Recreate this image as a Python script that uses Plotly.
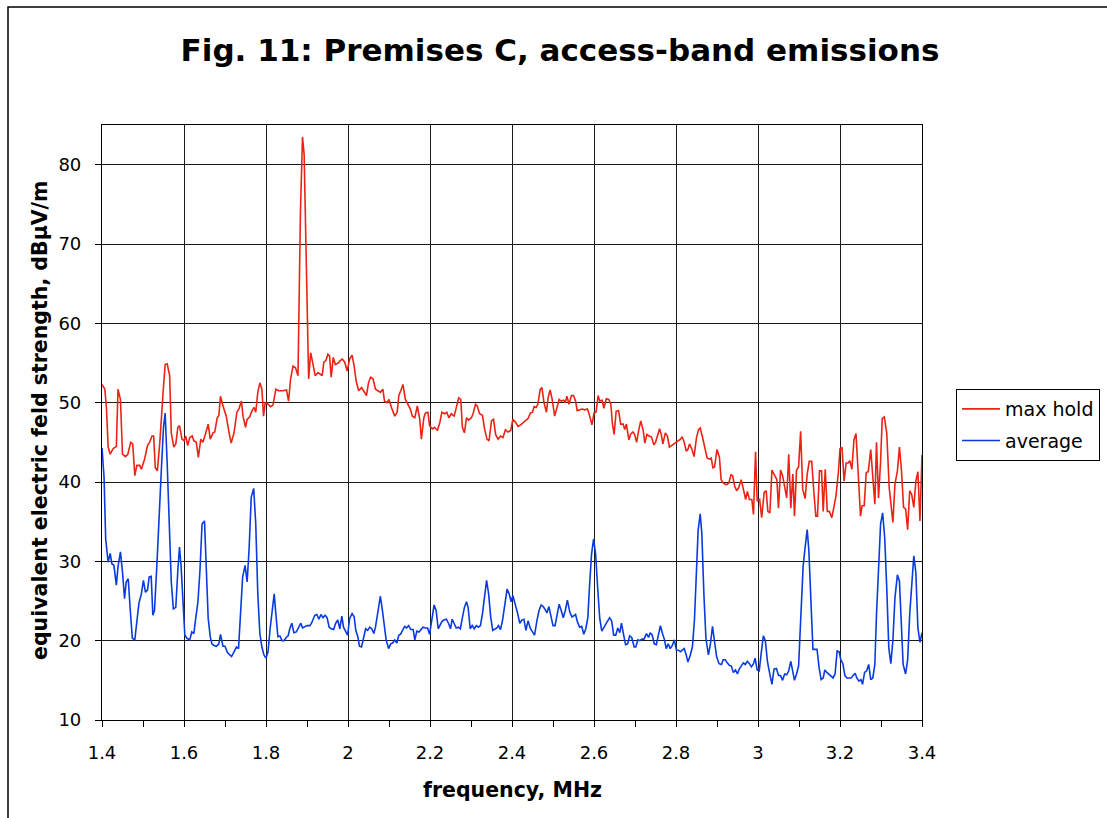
import plotly.graph_objects as go

# ---- measured spectrum: max hold ----
red_freq = [
    1.400, 1.407, 1.411, 1.415, 1.420, 1.427, 1.435, 1.439, 1.445, 1.450, 1.457, 1.463, 1.470, 1.475,
    1.480, 1.485, 1.492, 1.496, 1.504, 1.511, 1.516, 1.522, 1.526, 1.530, 1.535, 1.541, 1.549, 1.554,
    1.559, 1.565, 1.569, 1.575, 1.580, 1.585, 1.589, 1.595, 1.600, 1.604, 1.609, 1.614, 1.620, 1.624,
    1.630, 1.635, 1.641, 1.646, 1.652, 1.659, 1.664, 1.671, 1.675, 1.681, 1.685, 1.689, 1.695, 1.703,
    1.710, 1.715, 1.722, 1.729, 1.734, 1.740, 1.744, 1.750, 1.754, 1.760, 1.766, 1.771, 1.775, 1.780,
    1.785, 1.790, 1.794, 1.798, 1.805, 1.811, 1.817, 1.824, 1.831, 1.841, 1.850, 1.855, 1.860, 1.866,
    1.872, 1.878, 1.884, 1.889, 1.893, 1.898, 1.904,
    1.909, 1.915, 1.920, 1.927, 1.933, 1.937, 1.941, 1.946, 1.951, 1.955, 1.959, 1.964, 1.969, 1.976,
    1.981, 1.986, 1.992, 1.998, 2.004, 2.010, 2.015, 2.020, 2.026, 2.033, 2.038, 2.045, 2.050, 2.055,
    2.061, 2.067, 2.073, 2.079, 2.085, 2.089, 2.095, 2.100, 2.106, 2.114, 2.120, 2.124, 2.130, 2.134,
    2.140, 2.146, 2.152, 2.157, 2.163, 2.169, 2.175, 2.179, 2.185, 2.189, 2.195, 2.199, 2.206, 2.211,
    2.218, 2.224, 2.229, 2.236, 2.241, 2.246, 2.252, 2.259, 2.264, 2.270, 2.275, 2.279, 2.284, 2.289,
    2.294, 2.301, 2.305, 2.311, 2.315, 2.321, 2.328, 2.333, 2.339, 2.344, 2.350, 2.355, 2.360, 2.366,
    2.372, 2.378, 2.384, 2.390, 2.397,
    2.402, 2.409, 2.415, 2.421, 2.427, 2.433, 2.439, 2.445, 2.450, 2.454, 2.459, 2.463, 2.469, 2.473,
    2.478, 2.484, 2.488, 2.493, 2.498, 2.504, 2.510, 2.515, 2.520, 2.526, 2.530, 2.534, 2.539, 2.545,
    2.550, 2.555, 2.559, 2.565, 2.571, 2.577, 2.584, 2.589, 2.595, 2.600, 2.605, 2.610, 2.614, 2.620,
    2.624, 2.630, 2.636, 2.641, 2.645, 2.649, 2.654, 2.660, 2.665, 2.671, 2.675, 2.679, 2.685, 2.689,
    2.695, 2.699, 2.704, 2.709, 2.714, 2.720, 2.724, 2.729, 2.734, 2.740, 2.746, 2.750, 2.754, 2.760,
    2.764, 2.768, 2.774, 2.779, 2.784, 2.789, 2.794, 2.799, 2.805, 2.811, 2.815, 2.820, 2.825, 2.829,
    2.833, 2.839, 2.844, 2.850, 2.855, 2.859, 2.864, 2.870, 2.876, 2.881, 2.886, 2.890, 2.894, 2.900,
    2.906, 2.910, 2.915, 2.920, 2.925, 2.929, 2.934, 2.938, 2.943, 2.948, 2.953, 2.959, 2.964, 2.970,
    2.974, 2.979, 2.985, 2.989, 2.994, 2.998, 3.004, 3.009, 3.015, 3.020, 3.024, 3.029, 3.034, 3.040,
    3.046, 3.050, 3.055, 3.060, 3.065, 3.070, 3.075, 3.080, 3.085, 3.089, 3.094, 3.099, 3.104, 3.109,
    3.115, 3.120, 3.125, 3.131, 3.136, 3.141, 3.145, 3.150, 3.155, 3.159, 3.164, 3.169, 3.174, 3.180,
    3.185, 3.190, 3.196, 3.200, 3.205, 3.210, 3.215, 3.220, 3.224, 3.229, 3.234, 3.239, 3.245, 3.250,
    3.254, 3.259, 3.264, 3.269, 3.275, 3.280, 3.285, 3.289, 3.294, 3.299, 3.303, 3.308, 3.314, 3.320,
    3.324, 3.329, 3.334, 3.340, 3.345, 3.350, 3.355, 3.360, 3.365, 3.370, 3.375, 3.380, 3.385, 3.390,
    3.395, 3.400,
]
red_level = [
    52.3, 51.7, 49.2, 44.4, 43.5, 44.2, 44.5, 51.7, 50.4, 43.5, 43.2, 43.5, 45.0, 44.8,
    40.8, 42.1, 42.1, 41.6, 42.9, 44.6, 45.0, 45.8, 45.8, 41.8, 41.4, 45.0, 51.3, 54.8,
    54.9, 53.4, 46.2, 44.4, 44.8, 46.9, 47.1, 45.4, 45.2, 45.8, 44.6, 45.6, 45.8, 45.2,
    45.0, 43.1, 45.4, 45.0, 46.0, 47.3, 45.4, 46.2, 46.3, 48.1, 48.4, 50.8, 49.6, 48.3,
    46.2, 44.9, 46.2, 48.8, 49.2, 50.2, 48.3, 46.9, 47.9, 48.2, 49.0, 49.4, 48.8, 51.3,
    52.5, 51.7, 48.3, 50.0, 49.8, 49.5, 49.7, 51.7, 51.5, 51.5, 51.6, 50.2, 53.0, 54.6,
    54.4, 53.4, 73.9, 83.5, 81.3, 66.4, 53.0,
    56.3, 54.6, 53.4, 53.8, 53.6, 53.4, 55.1, 55.3, 56.1, 55.9, 53.2, 55.7, 54.8, 55.0,
    55.3, 55.5, 55.1, 54.0, 55.5, 56.0, 54.6, 52.7, 51.5, 51.9, 51.5, 50.9, 52.5, 53.2,
    53.0, 51.7, 51.5, 51.3, 51.7, 50.2, 50.0, 50.4, 49.4, 48.3, 48.8, 50.9, 51.7, 52.3,
    50.4, 49.8, 49.2, 48.3, 48.1, 49.6, 47.9, 45.4, 48.1, 48.7, 48.8, 47.1, 46.7, 46.9,
    46.5, 47.5, 48.8, 48.6, 48.8, 48.1, 48.6, 48.3, 49.4, 50.6, 50.4, 46.9, 46.2, 48.1,
    47.8, 48.1, 48.6, 49.8, 49.6, 48.6, 48.4, 46.7, 45.4, 45.2, 47.7, 47.9, 46.0, 45.4,
    45.8, 45.6, 46.6, 46.3, 46.5,
    47.9, 47.5, 47.0, 47.2, 47.5, 47.8, 48.0, 48.7, 48.8, 49.5, 49.4, 49.8, 51.7, 51.9,
    50.0, 48.8, 50.6, 51.6, 50.4, 48.3, 49.4, 50.4, 50.2, 50.3, 50.0, 50.8, 49.8, 50.9,
    50.9, 50.2, 49.0, 49.1, 49.2, 49.1, 49.2, 48.4, 47.2, 48.7, 48.8, 50.9, 50.2, 50.3,
    49.3, 50.5, 50.4, 49.8, 47.3, 46.0, 48.9, 49.0, 47.3, 47.3, 46.6, 47.3, 45.3, 46.0,
    46.3, 46.0, 45.0, 46.5, 47.7, 46.5, 44.9, 46.0, 45.8, 45.7, 44.7, 45.0, 45.6, 46.7,
    46.0, 44.8, 46.2, 45.8, 44.4, 44.6, 44.8, 45.0, 45.2, 45.4, 45.7, 45.0, 43.9, 44.1,
    44.8, 44.1, 43.2, 45.6, 46.6, 46.8, 45.8, 44.4, 43.0, 42.9, 43.0, 41.8, 41.9, 44.1,
    43.1, 40.3, 39.9, 39.7, 39.7, 39.9, 40.9, 40.8, 39.5, 38.9, 39.3, 40.3, 39.1, 37.8,
    38.8, 37.8, 37.8, 35.9, 43.8, 37.6, 37.8, 35.5, 38.7, 38.9, 36.3, 36.1, 41.5, 40.8,
    40.3, 36.7, 41.5, 40.8, 39.1, 38.0, 43.5, 36.7, 41.0, 35.7, 41.5, 41.9, 46.4, 39.1,
    37.9, 41.0, 42.6, 42.6, 38.9, 35.7, 35.7, 41.4, 41.4, 36.3, 41.6, 36.3, 36.3, 35.5,
    36.8, 38.2, 41.2, 44.2, 44.3, 40.1, 42.4, 42.4, 42.7, 41.6, 45.3, 46.1, 40.5, 35.7,
    37.0, 37.0, 41.2, 41.3, 44.1, 40.5, 37.2, 45.0, 38.0, 42.6, 48.0, 48.2, 46.2, 39.3,
    37.2, 34.9, 39.7, 41.4, 44.4, 41.4, 36.8, 36.6, 34.0, 38.9, 38.4, 36.8, 40.1, 41.3,
    35.1, 43.4,
]

# ---- measured spectrum: average ----
blue_freq = [
    1.400, 1.405, 1.409, 1.415, 1.420, 1.424, 1.429, 1.435, 1.439, 1.445, 1.450, 1.455, 1.459, 1.464,
    1.469, 1.474, 1.480, 1.485, 1.490, 1.496, 1.501, 1.506, 1.511, 1.515, 1.520, 1.524, 1.528, 1.534,
    1.539, 1.545, 1.550, 1.554, 1.559, 1.564, 1.569, 1.574, 1.580, 1.585, 1.589, 1.593, 1.598, 1.602,
    1.607, 1.614, 1.619, 1.624, 1.628, 1.634, 1.639, 1.644, 1.650, 1.654, 1.659, 1.664, 1.668, 1.673,
    1.679, 1.685, 1.689, 1.695, 1.700, 1.706, 1.711, 1.716, 1.722, 1.728, 1.733, 1.737, 1.743, 1.749,
    1.754, 1.759, 1.764, 1.770, 1.775, 1.780, 1.785, 1.790, 1.795, 1.800, 1.805, 1.810, 1.815, 1.820,
    1.824, 1.829, 1.834, 1.839, 1.844, 1.849, 1.854, 1.858, 1.863, 1.868, 1.874, 1.879, 1.885, 1.889,
    1.894, 1.900, 1.907,
    1.911, 1.919, 1.924, 1.929, 1.934, 1.939, 1.944, 1.949, 1.954, 1.959, 1.965, 1.970, 1.975, 1.980,
    1.985, 1.989, 1.994, 1.999, 2.004, 2.010, 2.015, 2.019, 2.024, 2.028, 2.033, 2.038, 2.043, 2.048,
    2.053, 2.058, 2.063, 2.067, 2.073, 2.079, 2.084, 2.089, 2.093, 2.099, 2.104, 2.109, 2.114, 2.119,
    2.124, 2.128, 2.133, 2.138, 2.143, 2.148, 2.153, 2.159, 2.163, 2.168, 2.173, 2.178, 2.183, 2.189,
    2.194, 2.199, 2.204, 2.210, 2.215, 2.220, 2.224, 2.229, 2.234, 2.240, 2.245, 2.250, 2.254, 2.259,
    2.264, 2.269, 2.274, 2.279, 2.284, 2.289, 2.293, 2.298, 2.303, 2.308, 2.313, 2.318, 2.323, 2.328,
    2.333, 2.338, 2.343, 2.348, 2.353, 2.358, 2.363, 2.367, 2.372, 2.377, 2.383, 2.388, 2.393, 2.398,
    2.402, 2.408, 2.413, 2.419, 2.424, 2.429, 2.434, 2.439, 2.445, 2.450, 2.455, 2.461, 2.466, 2.471,
    2.476, 2.480, 2.485, 2.490, 2.495, 2.500, 2.505, 2.510, 2.515, 2.520, 2.525, 2.530, 2.535, 2.541,
    2.546, 2.550, 2.555, 2.560, 2.565, 2.570, 2.575, 2.580, 2.585, 2.589, 2.594, 2.599, 2.604, 2.609,
    2.614, 2.619, 2.624, 2.628, 2.633, 2.638, 2.643, 2.648, 2.653, 2.658, 2.663, 2.667, 2.672, 2.677,
    2.682, 2.687, 2.692, 2.698, 2.702, 2.707, 2.712, 2.717, 2.722, 2.728, 2.733, 2.737, 2.742, 2.747,
    2.752, 2.757, 2.762, 2.767, 2.772, 2.776, 2.781, 2.786, 2.791, 2.796, 2.801, 2.806, 2.811, 2.815,
    2.820, 2.825, 2.829, 2.835, 2.840, 2.845, 2.850, 2.854, 2.859, 2.863, 2.868, 2.873, 2.879, 2.884,
    2.889, 2.894, 2.899, 2.905,
    2.911, 2.915, 2.920, 2.925, 2.930, 2.935, 2.940, 2.945, 2.950, 2.954, 2.959, 2.964, 2.969, 2.974,
    2.979, 2.984, 2.989, 2.993, 2.998, 3.003, 3.008, 3.013, 3.018, 3.023, 3.028, 3.034, 3.039, 3.045,
    3.050, 3.055, 3.060, 3.065, 3.070, 3.075, 3.080, 3.085, 3.089, 3.094, 3.099, 3.104, 3.110, 3.115,
    3.120, 3.124, 3.129, 3.134, 3.139, 3.144, 3.149, 3.154, 3.159, 3.163, 3.168, 3.173, 3.178, 3.183,
    3.188, 3.193, 3.198, 3.202, 3.207, 3.212, 3.217, 3.222, 3.227, 3.232, 3.237, 3.241, 3.246, 3.251,
    3.255, 3.260, 3.265, 3.270, 3.275, 3.280, 3.285, 3.289, 3.294, 3.299, 3.304, 3.309, 3.314, 3.319,
    3.324, 3.329, 3.334, 3.340, 3.345, 3.350, 3.354, 3.360, 3.365, 3.370, 3.375, 3.380, 3.385, 3.390,
    3.395, 3.400,
]
blue_level = [
    44.3, 40.6, 32.8, 29.9, 31.0, 29.7, 29.5, 27.0, 29.3, 31.2, 28.6, 25.3, 27.4, 27.8,
    23.8, 20.3, 20.1, 22.8, 24.7, 25.9, 27.6, 26.1, 26.4, 28.0, 28.1, 23.2, 23.8, 29.7,
    36.0, 41.8, 46.9, 48.7, 42.3, 34.7, 27.4, 24.0, 24.2, 28.9, 31.8, 29.3, 23.4, 20.7,
    20.3, 20.1, 21.1, 20.9, 22.6, 24.9, 28.9, 34.7, 35.1, 29.5, 22.8, 20.5, 19.6, 19.4,
    19.3, 19.6, 20.8, 19.3, 19.3, 18.5, 18.2, 18.0, 18.6, 19.2, 19.0, 23.4, 28.0, 29.5,
    27.4, 31.8, 38.1, 39.2, 34.7, 25.9, 20.9, 19.2, 18.2, 17.8, 18.6, 21.5, 23.8, 25.9,
    23.4, 20.5, 20.6, 20.0, 20.0, 20.4, 20.6, 21.5, 22.2, 21.0, 21.1, 21.7, 22.2, 21.6,
    21.7, 21.9, 21.9,
    22.2, 23.2, 23.3, 22.7, 23.3, 22.9, 23.2, 22.9, 21.7, 21.5, 21.4, 22.2, 22.6, 21.5,
    23.1, 21.7, 21.2, 20.7, 22.8, 23.4, 23.0, 21.3, 20.5, 19.3, 19.2, 20.6, 21.5, 21.3,
    21.7, 21.5, 20.9, 21.7, 23.4, 25.6, 23.8, 21.5, 20.1, 19.0, 19.6, 19.7, 20.1, 19.7,
    20.7, 20.8, 21.3, 21.8, 21.6, 21.9, 21.4, 21.4, 20.1, 21.2, 21.1, 21.4, 21.7, 21.6,
    21.6, 20.8, 22.6, 24.5, 23.8, 21.5, 21.9, 22.4, 22.6, 22.7, 22.2, 21.5, 22.7, 22.2,
    21.6, 21.7, 21.5, 22.9, 24.2, 24.9, 24.2, 21.5, 21.9, 21.5, 21.9, 21.7, 21.9, 23.4,
    25.9, 27.6, 25.9, 23.0, 21.3, 21.5, 21.6, 21.9, 21.4, 22.6, 24.9, 26.5, 25.9, 24.9,
    25.7, 24.6, 23.6, 22.2, 22.6, 22.7, 21.3, 22.5, 21.5, 21.1, 20.7, 22.6, 23.8, 24.5,
    24.3, 24.0, 23.5, 24.3, 23.2, 21.9, 21.9, 23.4, 24.6, 23.8, 22.9, 23.8, 25.1, 23.6,
    23.0, 23.1, 23.3, 22.3, 21.7, 21.8, 20.8, 21.5, 22.9, 26.8, 30.9, 32.8, 30.9, 26.6,
    22.8, 21.2, 21.7, 21.9, 22.6, 22.9, 22.5, 20.7, 20.7, 21.6, 21.0, 22.2, 20.8, 19.5,
    19.6, 20.6, 20.4, 19.2, 19.2, 20.1, 20.0, 20.2, 20.2, 20.9, 20.4, 21.0, 20.7, 19.6,
    19.5, 20.6, 21.9, 20.9, 20.1, 19.0, 19.6, 19.0, 19.4, 20.1, 18.8, 18.8, 18.6, 18.8,
    19.0, 18.2, 17.3, 18.2, 19.2, 22.6, 28.4, 33.9, 36.0, 33.5, 25.9, 20.3, 18.2, 19.6,
    21.8, 20.1, 18.0, 17.1,
    17.0, 17.6, 17.6, 17.2, 16.9, 16.8, 16.0, 16.3, 15.8, 16.4, 16.8, 17.2, 17.0, 17.4,
    17.1, 16.7, 17.1, 17.8, 16.3, 16.2, 18.5, 20.6, 20.0, 17.4, 16.0, 14.5, 16.4, 16.5,
    15.6, 15.6, 15.0, 15.8, 15.7, 16.2, 17.4, 15.8, 15.0, 15.8, 16.8, 22.5, 29.3, 31.8,
    34.0, 31.4, 25.5, 18.9, 18.9, 18.9, 16.6, 15.1, 15.3, 16.3, 16.0, 15.8, 15.6, 15.3,
    15.8, 18.7, 18.6, 17.6, 17.1, 15.6, 15.3, 15.3, 15.3, 15.6, 15.9, 15.3, 14.9, 15.1,
    14.5, 16.0, 16.2, 17.0, 15.1, 15.3, 17.0, 23.3, 30.0, 34.7, 36.1, 33.0, 26.7, 19.1,
    17.1, 20.0, 25.4, 28.3, 27.5, 20.8, 17.0, 15.8, 17.6, 23.3, 27.7, 30.7, 28.6, 21.6,
    19.8, 21.0,
]

x_tick_vals = [1.4, 1.6, 1.8, 2.0, 2.2, 2.4, 2.6, 2.8, 3.0, 3.2, 3.4]
x_tick_text = ["1.4", "1.6", "1.8", "2", "2.2", "2.4", "2.6", "2.8", "3", "3.2", "3.4"]
y_tick_vals = [10, 20, 30, 40, 50, 60, 70, 80]

FONT = "DejaVu Sans, Verdana, sans-serif"

fig = go.Figure()
fig.add_trace(go.Scatter(
    x=red_freq, y=red_level, mode="lines", name="max hold", legendgroup="a",
    line=dict(color="#ec2314", width=1.6),
))
fig.add_trace(go.Scatter(
    x=blue_freq, y=blue_level, mode="lines", name="average", legendgroup="b",
    line=dict(color="#0a3be0", width=1.6),
))

axis_common = dict(
    showline=True, linecolor="#000000", linewidth=1.2, mirror=True,
    showgrid=True, gridcolor="#1a1a1a", gridwidth=1,
    zeroline=False, ticks="outside", ticklen=6, tickcolor="#000000",
    tickfont=dict(family=FONT, size=18, color="#000000"),
)

fig.update_xaxes(
    range=[1.4, 3.4], tickvals=x_tick_vals, ticktext=x_tick_text,
    minor=dict(dtick=0.1, tick0=1.4, ticks="outside", ticklen=6, tickcolor="#000000", showgrid=False),
    ticklabelstandoff=10,
    **axis_common,
)
fig.update_yaxes(range=[10, 85], tickvals=y_tick_vals, ticklabelstandoff=10, **axis_common)

L, R, T, B = 102, 185, 125, 98
W, H = 1107, 818
pw, ph = W - L - R, H - T - B

def px_x(px):
    return (px - L) / pw

def px_y(py):
    return (H - B - py) / ph

fig.update_layout(
    width=W, height=H,
    margin=dict(l=L, r=R, t=T, b=B, autoexpand=False),
    paper_bgcolor="#ffffff", plot_bgcolor="#ffffff",
    font=dict(family=FONT, color="#000000"),
    title=dict(
        text="<b>Fig. 11: Premises C, access-band emissions</b>",
        font=dict(family=FONT, size=31, color="#000000"),
        x=560 / W, xanchor="center", xref="container",
        y=1 - 50 / H, yanchor="middle", yref="container",
    ),
    showlegend=True,
    legend=dict(
        x=px_x(956), y=px_y(389), xanchor="left", yanchor="top",
        bgcolor="#ffffff", bordercolor="#000000", borderwidth=1,
        font=dict(family=FONT, size=19, color="#000000"),
        tracegroupgap=4, itemwidth=38,
    ),
    annotations=[
        dict(text="<b>frequency, MHz</b>", x=px_x(512), y=px_y(790),
             xref="paper", yref="paper", xanchor="center", yanchor="middle", showarrow=False,
             font=dict(family=FONT, size=20.5, color="#000000")),
        dict(text="<b>equivalent electric feld strength, dBμV/m</b>", x=px_x(40), y=px_y(421),
             xref="paper", yref="paper", xanchor="center", yanchor="middle", showarrow=False,
             textangle=-90,
             font=dict(family=FONT, size=20.5, color="#000000")),
    ],
    shapes=[
        dict(type="rect", xref="paper", yref="paper",
             x0=px_x(8), x1=px_x(1120), y0=px_y(830), y1=px_y(7),
             line=dict(color="#000000", width=1.5), fillcolor="rgba(0,0,0,0)", layer="below"),
    ],
)

fig.write_html("out.html")
